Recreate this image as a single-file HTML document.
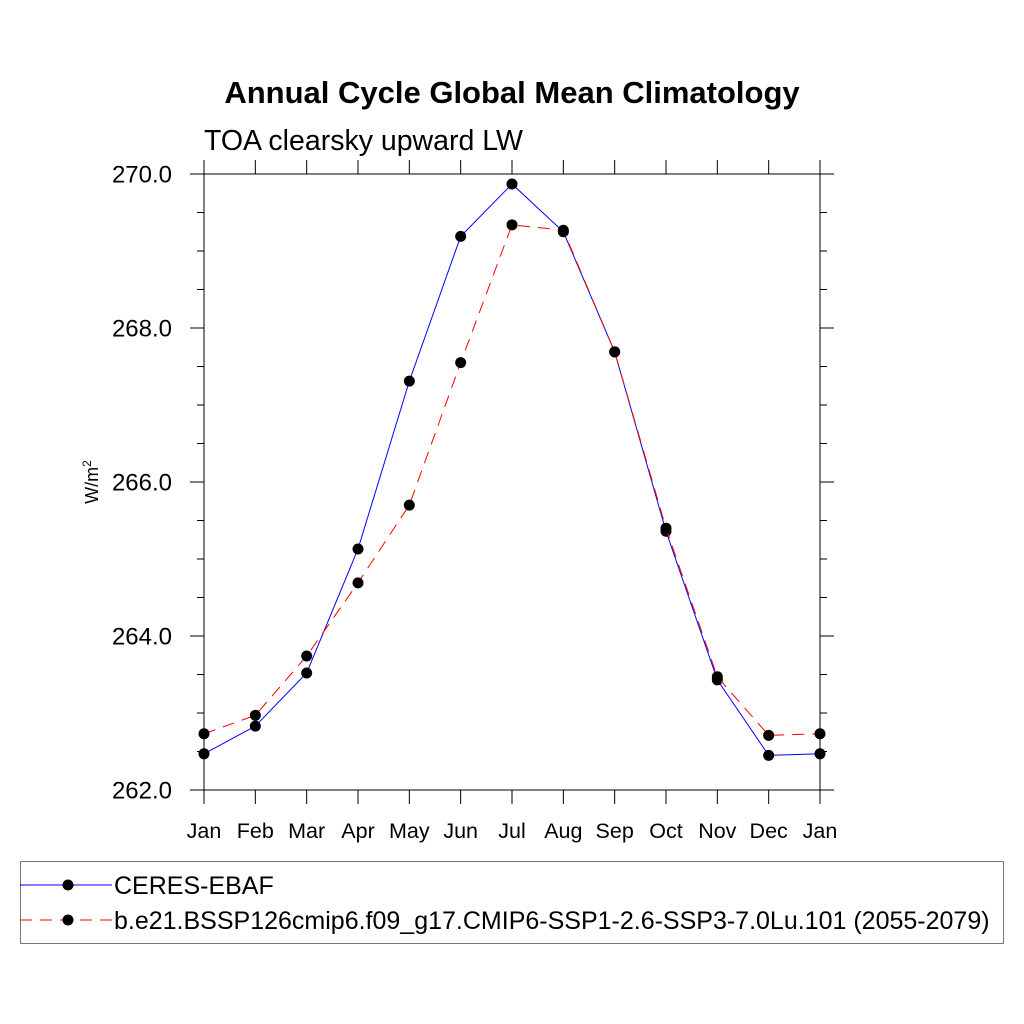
<!DOCTYPE html>
<html><head><meta charset="utf-8"><style>
html,body{margin:0;padding:0;background:#fff;}
svg{display:block;font-family:"Liberation Sans",Arial,sans-serif;}
</style></head><body>
<svg id="chart" width="1024" height="1024" viewBox="0 0 1024 1024">
<text x="512" y="103" text-anchor="middle" font-size="31" font-weight="bold">Annual Cycle Global Mean Climatology</text>
<text x="204" y="150" font-size="28.5">TOA clearsky upward LW</text>
<text transform="translate(98,482) rotate(-90)" text-anchor="middle" font-size="18">W/m<tspan dy="-7" font-size="12">2</tspan></text>
<g id="axes"></g>
<g id="series"></g>
<g>
<rect x="20.5" y="861.5" width="983" height="82" fill="none" stroke="#777" stroke-width="1"/>
<g>
<line x1="20" y1="885" x2="112" y2="885" stroke="#0000ff" stroke-width="1"/>
<circle cx="68" cy="885" r="5.5" fill="#000"/>
<text x="114" y="894" font-size="25">CERES-EBAF</text></g>
<g>
<line x1="20" y1="920" x2="112" y2="920" stroke="#ff0000" stroke-width="1" stroke-dasharray="12,8"/>
<circle cx="68" cy="920" r="5.5" fill="#000"/>
<text x="114" y="929" font-size="25">b.e21.BSSP126cmip6.f09_g17.CMIP6-SSP1-2.6-SSP3-7.0Lu.101 (2055-2079)</text></g>
</g>
</svg>
<script>
const months=["Jan","Feb","Mar","Apr","May","Jun","Jul","Aug","Sep","Oct","Nov","Dec","Jan"];
const ceres=[262.47,262.83,263.52,265.13,267.31,269.19,269.87,269.25,267.69,265.36,263.43,262.45,262.47];
const model=[262.73,262.97,263.74,264.69,265.70,267.55,269.34,269.27,267.69,265.40,263.47,262.71,262.73];
const yTicks=["262.0","264.0","266.0","268.0","270.0"];
const NS="http://www.w3.org/2000/svg";
const L=204,R=820,T=174,B=790,ymin=262,ymax=270;
const xs=i=>L+(R-L)*i/(months.length-1);
const ys=v=>B-(v-ymin)/(ymax-ymin)*(B-T);
function mk(t,a,p){const e=document.createElementNS(NS,t);for(const k in a)e.setAttribute(k,a[k]);p.appendChild(e);return e;}
const ax=document.getElementById('axes');
const frame=mk('rect',{x:L,y:T,width:R-L,height:B-T,fill:'none',stroke:'#000','stroke-width':1},ax);


for(let v=ymin;v<=ymax+1e-9;v+=0.5){
  const y=ys(v);const major=Math.abs(v%2)<1e-9;const len=major?14:7;
  mk('line',{x1:L-len,y1:y,x2:L,y2:y,stroke:'#000'},ax);
  mk('line',{x1:R,y1:y,x2:R+len,y2:y,stroke:'#000'},ax);
}
yTicks.forEach(s=>{const y=ys(parseFloat(s));
  const t=mk('text',{x:172,y:y+8.5,'text-anchor':'end','font-size':24},ax);t.textContent=s;
  
  });
months.forEach((m,i)=>{const x=xs(i);
  mk('line',{x1:x,y1:B,x2:x,y2:B+14,stroke:'#000'},ax);
  mk('line',{x1:x,y1:T-14,x2:x,y2:T,stroke:'#000'},ax);
  const t=mk('text',{x:x,y:838,'text-anchor':'middle','font-size':21.5},ax);t.textContent=m;
  
  });
const sg=document.getElementById('series');
function draw(vals,color,dash,name){
  const g=mk('g',{},sg);
  
  
  const pts=vals.map((v,i)=>xs(i)+','+ys(v)).join(' ');
  const a={points:pts,fill:'none',stroke:color,'stroke-width':1};if(dash)a['stroke-dasharray']=dash;
  mk('polyline',a,g);
  vals.forEach((v,i)=>{const c=mk('circle',{cx:xs(i),cy:ys(v),r:5.5,fill:'#000'},g);
    
    });
}
draw(ceres,'#0000ff',null,'series-ceres-ebaf');
draw(model,'#ff0000','12,8','series-model');
</script>
</body></html>
